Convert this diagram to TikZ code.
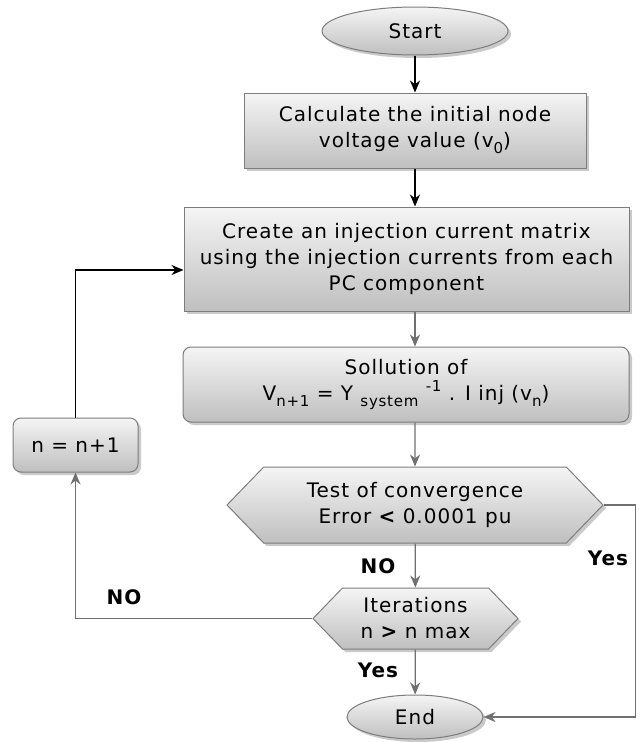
\documentclass[tikz,border=0pt]{standalone}
\usepackage{fontspec}
\setmainfont{DejaVu Sans}[LetterSpace=5]
\usetikzlibrary{shapes.geometric,shapes.symbols,shadows,arrows.meta}

\definecolor{linegray}{RGB}{112,112,112}
\definecolor{edgegray}{RGB}{125,125,125}

\newcommand{\lowtxt}[1]{\raisebox{-0.3em}{\fontsize{15}{15}\selectfont #1}}
\newcommand{\hightxt}[1]{\raisebox{0.45em}{\fontsize{15}{15}\selectfont #1}}

\tikzset{
  base/.style={draw=edgegray, line width=1pt, top color=black!4, bottom color=black!25,
    align=center, inner sep=0pt,
    drop shadow={shadow xshift=3pt, shadow yshift=-3pt, fill=black!35, opacity=.6}},
  terminal/.style={base, ellipse},
  process/.style={base, rectangle},
  roundbox/.style={base, rectangle, rounded corners=8pt},
  decision/.style={base, signal, signal to=east and west, signal pointer angle=92},
  flow/.style={-{Stealth[length=12pt,width=10pt]}, line width=1.3pt, linegray},
  mainflow/.style={flow, black},
  tag/.style={font=\fontsize{20}{24}\bfseries\selectfont}
}

\begin{document}
\begin{tikzpicture}[x=1pt, y=-1pt, font=\fontsize{20}{26}\selectfont]
  \useasboundingbox (0,0) rectangle (640,742);

  % Flow chart blocks
  \node[terminal, minimum width=186pt, minimum height=48pt] (start) at (415,31) {Start};
  \node[process, minimum width=342pt, minimum height=75pt] (calc) at (415,130.5)
    {Calculate the initial node\\voltage value (v\lowtxt{0})};
  \node[process, minimum width=445pt, minimum height=104pt] (create) at (406.5,259)
    {Create an injection current matrix\\using the injection currents from each\\PC component};
  \node[roundbox, minimum width=446pt, minimum height=75pt] (sol) at (406,384.5)
    {Sollution of\\V\lowtxt{n+1} = Y \lowtxt{system} \hightxt{-1} . I inj (v\lowtxt{n})};
  \node[decision, minimum width=376pt, minimum height=76pt] (test) at (415,505)
    {Test of convergence\\Error {\bfseries <} 0.0001 pu};
  \node[decision, minimum width=205pt, minimum height=61pt] (iter) at (415.5,618.5)
    {Iterations\\n {\bfseries >} n max};
  \node[terminal, minimum width=136pt, minimum height=44pt] (end) at (415,717) {End};
  \node[roundbox, minimum width=125pt, minimum height=54pt] (incr) at (75.5,445) {n = n+1};

  % Branch labels
  \node[tag] (noTest) at (378,566) {NO};
  \node[tag] (yesTest) at (608,558) {Yes};
  \node[tag] (yesIter) at (378,670) {Yes};
  \node[tag] (noIter) at (124,597) {NO};

  % Connectors
  \draw[mainflow] (start) -- (calc);
  \draw[mainflow] (calc) -- (calc.south |- create.north);
  \draw[flow] (calc.south |- create.south) -- (calc.south |- sol.north);
  \draw[flow] (calc.south |- sol.south) -- (test);
  \draw[flow] (test) -- (iter);
  \draw[flow] (iter) -- (end);
  \draw[flow] (test.east) -- ++(32,0) |- (end.east);
  \draw[flow] (iter.west) -| (incr.south);
  \draw[mainflow] (incr.north) |- ([yshift=-11pt]create.west);
\end{tikzpicture}
\end{document}
